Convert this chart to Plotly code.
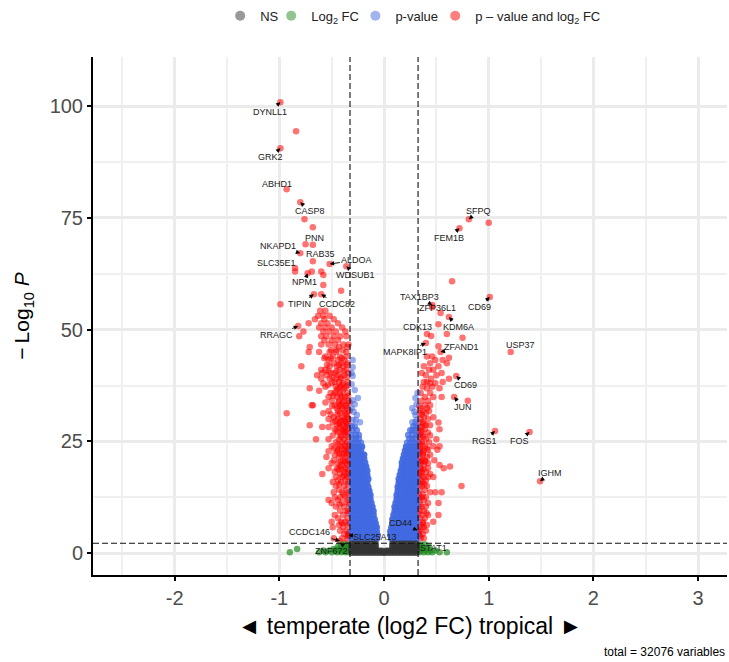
import plotly.graph_objects as go

label_genes = ["DYNLL1","GRK2","ABHD1","CASP8","PNN","NKAPD1","RAB35","ALDOA","WDSUB1","SLC35E1","NPM1","TIPIN","CCDC82","RRAGC",
 "SFPQ","FEM1B","CD69","TAX1BP3","ZFP36L1","KDM6A","CDK13","MAPK8IP1","ZFAND1","USP37","CD69","JUN","RGS1","FOS","IGHM",
 "CCDC146","SLC25A13","CD44","STAT1","ZNF672"]
label_fc = [-.99,-.99,-.93,-.80,-.75,-.80,-.68,-.52,-.36,-.85,-.73,-.67,-.60,-.82,
 .81,.72,1.01,.46,.54,.62,.41,.40,.54,1.21,.69,.67,1.06,1.39,1.49,
 -.42,-.34,.32,.32,-.37]
label_logp = [100.9,90.6,81.4,78.5,69.1,67.1,65.3,64.7,64.2,63.8,62.6,57.9,57.9,50.8,
 74.7,72.7,57.3,55.5,53.7,52.8,49.0,47.0,45.0,45.0,39.6,34.9,27.3,27.1,16.1,
 2.7,4.0,5.1,1.6,2.2]
label_text_fc = [-1.09,-1.08,-1.02,-.71,-.66,-1.01,-.61,-.26,-.27,-1.03,-.76,-.81,-.45,-1.03,
 .90,.62,.91,.34,.51,.71,.32,.20,.74,1.30,.78,.75,.96,1.29,1.59,
 -.71,-.09,.16,.47,-.50]
label_text_logp = [98.7,88.6,82.6,76.5,70.5,68.7,66.9,65.5,62.2,64.9,60.6,55.7,55.7,48.8,
 76.5,70.5,55.0,57.3,54.9,50.6,50.6,45.0,46.1,46.5,37.6,32.7,25.1,25.1,17.9,
 4.7,3.6,6.7,1.1,.4]

red_rows = {
 94.4:[-.84], 74.7:[-.76], 72.9:[-.68], 73.9:[1.0], 69.0:[-.68], 63.0:[-.85,-.69,-.60], 62.2:[-.58], 60.0:[-.58], 58.7:[-.41],
 60.8:[.65], 55.7:[-.99], 55.0:[.46], 51.2:[.52], 49.0:[.60], 48.2:[.75], 48.6:[.45], 46.3:[.52], 43.7:[.62],
 54.2:[-.61,-.56], 53.1:[-.63,-.52,-.58], 52.3:[-.66,-.57,-.48], 51.4:[-.72,-.54,-.60,-.44], 50.5:[-.62,-.50,-.56,-.40],
 49.6:[-.77,-.58,-.46,-.52,-.37], 48.5:[-.81,-.60,-.55,-.48,-.42,-.36], 47.6:[-.57,-.50,-.44], 46.7:[-.60,-.53,-.47,-.39,-.34],
 46.1:[-.71,-.35,-.43], 45.0:[-.72,-.62,-.52,-.46,-.36], 44.0:[-.56,-.49,-.42,-.36,.46,.41], 43.2:[-.53,-.44,-.38,.49,.56],
 42.5:[-.48,-.41,-.35,.44,.60], 41.8:[-.79,-.52,-.45,-.39,.38,.52], 41.0:[-.60,-.56,-.42,-.36,.43,.47], 40.3:[-.59,-.51,-.47,-.34,.36,.55],
 39.8:[-.64,-.55,-.44,-.38,.40,.50], 39.0:[-.60,-.52,-.46,-.41,.45,.62], 38.3:[-.47,-.43,-.35,.41,.56,.38], 38.0:[-.58,-.50,-.39,.44,.49],
 37.2:[-.56,-.46,-.42,-.36,.37,.46], 36.9:[-.71,-.44,-.38,.53,.41], 35.8:[-.51,-.47,-.42,-.35,.35,.44], 34.9:[-.53,-.45,-.40,-.37,.55,.39,.47],
 34.1:[-.50,-.43,-.38,-.34,.36,.42,.80], 33.1:[-.69,-.68,-.47,-.41,-.36,.39,.44], 32.4:[-.45,-.40,-.35,.35,.41], 31.8:[-.53,-.44,-.38,-.33,.37,.43],
 31.3:[-.93,-.58,-.42,-.37,.34,.40], 30.4:[-.48,-.40,-.35,.47,.38], 30.0:[-.53,-.44,-.38,-.34,.35,.42], 29.2:[-.49,-.42,-.36,.52,.37,.34],
 28.6:[-.71,-.45,-.39,-.35,.40,.44], 28.2:[-.59,-.53,-.42,-.37,.36,.34], 27.7:[-.47,-.40,-.34,.53,.39], 27.0:[-.44,-.38,-.35,.42,.35],
 26.3:[-.49,-.41,-.36,.37,.33,.44], 25.5:[-.65,-.53,-.43,-.38,.50,.40], 24.8:[-.46,-.40,-.35,.36,.34,.43], 23.9:[-.50,-.42,-.37,.53,.47,.39],
 23.1:[-.44,-.38,-.34,.35,.42,.51], 22.8:[-.53,-.45,-.36,.38,.34], 22.0:[-.47,-.40,-.35,.44,.37], 21.5:[-.55,-.43,-.37,.41,.34],
 20.8:[-.48,-.39,-.34,.48,.36,.39], 20.1:[-.50,-.44,-.36,.35,.42], 19.7:[-.40,-.35,.53,.38], 19.0:[-.53,-.45,-.37,.42,.57,.35], 19.4:[-.42,.63],
 18.2:[-.47,-.38,-.34,.36,.40], 17.7:[-.59,-.42,-.36,.34,.44], 17.0:[-.46,-.40,-.35,.47,.38,.42], 16.3:[-.44,-.37,.35,.40], 15.9:[-.49,-.41,-.34,.37,.33],
 15.0:[-.46,-.38,.74,.41,.36], 14.2:[-.43,-.36,.34,.39], 13.6:[-.48,-.40,-.34,.55,.49,.44], 12.5:[-.47,-.42,-.37,.40,.36,.33], 11.9:[-.53,-.44,-.35,.38,.34],
 11.2:[-.50,-.40,-.34,.52,.42], 10.4:[-.46,-.38,.36,.33,.40], 9.5:[-.42,-.36,-.34,.38,.34], 8.5:[-.47,-.39,.52,.36,.42], 7.8:[-.44,-.35,.39,.34],
 7.0:[-.50,-.41,-.37,.47,.37], 6.3:[-.43,-.35,.41,.35], 5.8:[-.49,-.39,.36,.38], 5.0:[-.42,-.36,.34,.40], 4.3:[-.38,-.34,.37,.33], 3.3:[-.48,-.40,-.35,.35,.38],
}

red_dense_rows = {
 45.4:[-.395,-.505,-.455], 43.6:[-.405,-.57,-.51], 42.1:[-.43,-.355,-.545], 40.7:[-.385,-.455,-.53], 39.4:[-.355,-.415,-.495],
 37.6:[-.405,-.345,-.535], 36.3:[-.395,-.455,-.62], 35.2:[-.345,-.415,-.485], 33.7:[-.33,-.395,-.435,-.56],
 32.9:[-.365,-.425,-.495,.335], 31.0:[-.355,-.445,-.51,.36], 29.6:[-.375,-.41,-.465], 28.9:[-.345,-.43,.385],
 27.3:[-.37,-.395,-.455,.33,.36], 26.0:[-.345,-.415,.345,.38], 24.3:[-.33,-.375,-.44,.33,.365], 23.4:[-.345,-.405,-.475,.345,.41],
 22.3:[-.335,-.385,-.425,.335,.37], 20.5:[-.33,-.375,-.415,.33,.355,.395], 18.7:[-.345,-.405,-.435,.345,.375], 17.3:[-.33,-.385,.33,.36],
 15.4:[-.345,-.43,.345,.385], 13.1:[-.335,-.39,.335,.37], 10.9:[-.33,-.425,.345], 9.0:[-.345,.33,.405], 6.7:[-.335,-.40,.37],
 4.8:[-.33,.33], 3.8:[-.345,.345],
}

blue_rows = {
 43.2:[-.30], 41.6:[-.30], 40.3:[-.31], 39.6:[-.30], 37.8:[-.31], 36.5:[-.28], 35.8:[.32], 34.7:[-.25,.30], 34.2:[-.30], 33.3:[-.28,.31], 32.4:[.27,-.31], 31.6:[-.29,.29], 30.9:[-.26,.30],
 29.8:[-.30,.31,-.27], 29.3:[-.23,.27,.30], 28.4:[-.31,-.28,.28,.31], 27.5:[-.30,-.26,.30,.27,.25],
 26.4:[-.31,-.27,-.24,.23,.27,.31], 25.6:[-.30,-.27,-.24,.24,.27,.30], 24.7:[-.31,-.28,-.25,-.22,.22,.25,.28,.31],
 23.8:[-.30,-.27,-.24,-.21,.21,.24,.27,.30], 22.9:[-.31,-.28,-.25,-.22,.20,.23,.26,.29,.31], 22.0:[-.30,-.27,-.24,-.21,-.19,.19,.22,.25,.28,.31],
 21.1:[-.31,-.28,-.25,-.22,-.19,.18,.21,.24,.27,.30], 20.2:[-.30,-.27,-.24,-.21,-.18,.17,.20,.23,.26,.29,.31],
 19.3:[-.31,-.28,-.25,-.22,-.19,-.17,.17,.19,.22,.25,.28,.31], 18.4:[-.30,-.27,-.24,-.21,-.18,-.16,.16,.18,.21,.24,.27,.30],
 17.5:[-.31,-.28,-.25,-.22,-.19,-.16,.15,.18,.21,.24,.27,.30], 16.6:[-.30,-.27,-.24,-.21,-.18,-.15,.14,.17,.20,.23,.26,.29,.31],
 15.7:[-.31,-.28,-.25,-.22,-.19,-.16,.14,.16,.19,.22,.25,.28,.31], 14.8:[-.30,-.27,-.24,-.21,-.18,-.15,.13,.15,.18,.21,.24,.27,.30],
 13.9:[-.31,-.28,-.25,-.22,-.19,-.16,-.14,.13,.16,.19,.22,.25,.28,.31], 13.0:[-.30,-.27,-.24,-.21,-.18,-.15,-.13,.12,.15,.18,.21,.24,.27,.30],
 12.1:[-.31,-.28,-.25,-.22,-.19,-.16,-.13,.12,.14,.17,.20,.23,.26,.29,.31], 11.2:[-.30,-.27,-.24,-.21,-.18,-.15,-.12,.11,.14,.17,.20,.23,.26,.29,.31],
 10.3:[-.31,-.28,-.25,-.22,-.19,-.16,-.13,-.11,.10,.13,.16,.19,.22,.25,.28,.31], 9.4:[-.30,-.27,-.24,-.21,-.18,-.15,-.12,-.10,.10,.12,.15,.18,.21,.24,.27,.30],
 8.5:[-.31,-.28,-.25,-.22,-.19,-.16,-.13,-.10,.09,.12,.15,.18,.21,.24,.27,.30], 7.6:[-.30,-.27,-.24,-.21,-.18,-.15,-.12,-.09,.08,.11,.14,.17,.20,.23,.26,.29,.31],
 6.7:[-.31,-.28,-.25,-.22,-.19,-.16,-.13,-.10,-.08,.08,.10,.13,.16,.19,.22,.25,.28,.31], 5.8:[-.30,-.27,-.24,-.21,-.18,-.15,-.12,-.09,-.07,.07,.09,.12,.15,.18,.21,.24,.27,.30],
 4.9:[-.31,-.28,-.25,-.22,-.19,-.16,-.13,-.10,-.07,.06,.09,.12,.15,.18,.21,.24,.27,.30], 4.0:[-.30,-.27,-.24,-.21,-.18,-.15,-.12,-.09,-.06,.06,.08,.11,.14,.17,.20,.23,.26,.29,.31],
 3.2:[-.31,-.28,-.25,-.22,-.19,-.16,-.13,-.10,-.07,.07,.10,.13,.16,.19,.22,.25,.28,.31],
}

grey_rows = {
 2.1:[-.31,-.28,-.25,-.22,-.19,-.16,-.13,-.10,-.08,.08,.10,.13,.16,.19,.22,.25,.28,.31],
 1.5:[-.31,-.28,-.25,-.22,-.19,-.16,-.13,-.10,-.08,.08,.10,.13,.16,.19,.22,.25,.28,.31],
 1.0:[-.31,-.28,-.25,-.22,-.19,-.16,-.13,-.10,-.08,.08,.10,.13,.16,.19,.22,.25,.28,.31],
 .5:[-.31,-.28,-.25,-.22,-.19,-.16,-.13,-.10,-.07,-.04,-.02,.02,.04,.07,.10,.13,.16,.19,.22,.25,.28,.31],
 .1:[-.31,-.28,-.25,-.22,-.19,-.16,-.13,-.10,-.07,-.04,-.01,.01,.04,.07,.10,.13,.16,.19,.22,.25,.28,.31],
}

green_rows = {
 .2:[-.90,-.62,-.56,-.50,-.45,-.41,-.37,-.34,.34,.38,.42,.46,.53,.60],
 .6:[-.58,-.52,-.47,-.42,-.38,-.35,.35,.39,.44,.49],
 .9:[-.83,-.48,-.43,-.39,-.35,.36,.41],
 1.4:[-.44,-.40,-.36,-.34,.34,.37,.43],
 1.9:[-.41,-.37,-.34,.35,.39],
}


def flat(rows):
    xs, ys = [], []
    for y, vals in rows.items():
        for v in vals:
            xs.append(v)
            ys.append(y)
    return xs, ys

FONT = "Liberation Sans"
SIZE = 6.5
fig = go.Figure()
rx, ry = flat(red_rows)
dx, dy = flat(red_dense_rows)
fig.add_trace(go.Scatter(x=rx + dx + label_fc, y=ry + dy + label_logp, mode="markers", showlegend=False,
                         marker=dict(color="red", size=SIZE, opacity=.55, line_width=0)))
bx, by = flat(blue_rows)
fig.add_trace(go.Scatter(x=bx, y=by, mode="markers", showlegend=False,
                         marker=dict(color="royalblue", size=SIZE,
                                     opacity=[.55 if v > 29 else (.75 if v > 24 else .95) for v in by], line_width=0)))
gx, gy = flat(green_rows)
fig.add_trace(go.Scatter(x=gx, y=gy, mode="markers", showlegend=False,
                         marker=dict(color="forestgreen", size=SIZE, opacity=.7, line_width=0)))
nx, ny = flat(grey_rows)
fig.add_trace(go.Scatter(x=nx, y=ny, mode="markers", showlegend=False,
                         marker=dict(color="#333333", size=SIZE, opacity=.8, line_width=0)))

legend_names = ["NS", "Log<sub>2</sub> FC", "p-value", "p \u2013 value and log<sub>2</sub> FC"]
legend_colors = ["#333333", "forestgreen", "royalblue", "red"]
legend_ids = ["legend", "legend2", "legend3", "legend4"]
legend_left = [.302, .372, .4875, .597]
for name, col, lid in zip(legend_names, legend_colors, legend_ids):
    fig.add_trace(go.Scatter(x=[None], y=[None], mode="markers", name=name, legend=lid,
                             marker=dict(color=col, size=10, opacity=.5, line_width=0)))

for g, x, y, tx, ty in zip(label_genes, label_fc, label_logp, label_text_fc, label_text_logp):
    fig.add_annotation(x=x, y=y, ax=tx, ay=ty, axref="x", ayref="y", text=g, showarrow=True,
                       arrowhead=2, arrowsize=1, arrowwidth=.9, arrowcolor="black", standoff=0,
                       font=dict(family=FONT, size=9, color="#1a1a1a"))

fig.add_annotation(xref="paper", yref="paper", x=1, y=-.148, xanchor="right", yanchor="middle", showarrow=False,
                   text="total = 32076 variables", font=dict(family=FONT, size=12, color="black"))

dash = dict(color="#111111", width=1.1, dash="6px,3px")
for v in (-.325, .325):
    fig.add_shape(type="line", xref="x", yref="paper", x0=v, x1=v, y0=0, y1=1, line=dash, layer="above")
fig.add_shape(type="line", xref="paper", yref="y", x0=0, x1=1, y0=2.2, y1=2.2, line=dash, layer="above")

axis = dict(showline=True, linecolor="black", linewidth=2, ticks="outside", ticklen=4, tickcolor="black", tickwidth=1.5,
            gridcolor="#ebebeb", gridwidth=3, zeroline=False, automargin=False, tickfont=dict(family=FONT, size=20, color="#4d4d4d"))
leg = {lid: dict(xref="container", yref="container", x=lx, y=.976, xanchor="left", yanchor="middle", orientation="h",
                 font=dict(family=FONT, size=13, color="#222222"), itemclick=False, bgcolor="rgba(0,0,0,0)")
       for lid, lx in zip(legend_ids, legend_left)}
fig.update_layout(
    width=729, height=662, margin=dict(l=93, r=2, t=57, b=87, autoexpand=False), plot_bgcolor="white", paper_bgcolor="white",
    font=dict(family=FONT),
    xaxis=dict(axis, range=[-2.78, 3.276], tickvals=[-2, -1, 0, 1, 2, 3], ticktext=["-2", "-1", "0", "1", "2", "3"],
               minor=dict(dtick=.5, showgrid=True, gridcolor="#f0f0f0", gridwidth=1.5, ticks=""),
               title=dict(text="\u25c4 temperate (log2 FC) tropical \u25ba", font=dict(family=FONT, size=23, color="black"), standoff=10)),
    yaxis=dict(axis, range=[-4.9, 111], tickvals=[0, 25, 50, 75, 100],
               minor=dict(dtick=12.5, showgrid=True, gridcolor="#f0f0f0", gridwidth=1.5, ticks=""),
               title=dict(text="\u2212\u2009Log<sub>10</sub> <i>P</i>", font=dict(family=FONT, size=21, color="black"), standoff=14)),
    **leg,
)
fig.write_html("out.html", config={"displayModeBar": False},
               post_script="document.body.style.margin='0';document.documentElement.style.overflow='hidden';")
